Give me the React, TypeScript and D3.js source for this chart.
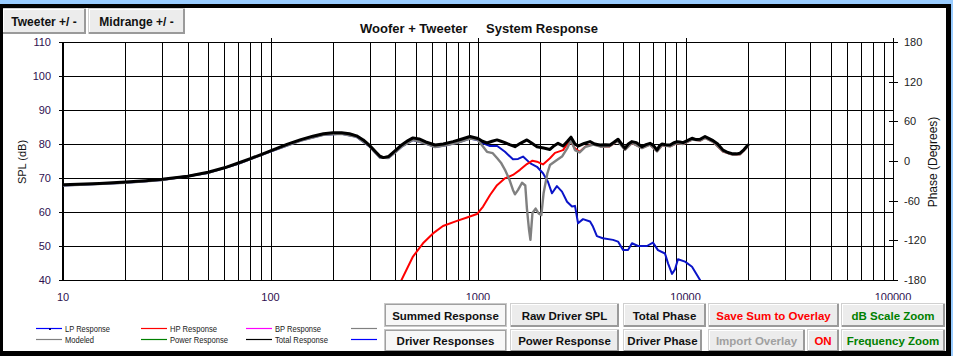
import React from "react";
import * as d3 from "d3";

const W = 953;
const H = 356;

const dbTicks = [40, 50, 60, 70, 80, 90, 100, 110];
const phaseTicks = [-180, -120, -60, 0, 60, 120, 180];
const freqLabels = [10, 100, 1000, 10000, 100000];

// Total Response (black)
const totalFreq = [10, 15, 20, 25, 30, 40, 50, 60, 70, 80, 90, 100, 120, 140, 160, 180, 200, 220, 240, 260, 280, 300, 320, 337, 350, 370, 398, 430, 460, 486, 520, 560, 621, 680, 758, 830, 915, 1000, 1050, 1105, 1170, 1235, 1290, 1349, 1420, 1507, 1600, 1721, 1820, 1924, 2070, 2222, 2330, 2430, 2570, 2700, 2807, 2934, 3035, 3250, 3467, 3650, 3873, 4100, 4327, 4520, 4730, 4920, 5106, 5300, 5521, 5800, 6170, 6450, 6745, 7000, 7290, 7500, 7708, 8050, 8420, 8750, 9102, 9400, 9729, 10200, 10750, 11250, 11750, 12420, 13000, 13580, 14300, 15170, 16000, 16950, 17600, 18320, 19100, 20000];
const totalDb = [68.0, 68.4, 68.8, 69.2, 69.6, 70.5, 71.7, 73.0, 74.4, 75.7, 76.9, 78.0, 79.9, 81.3, 82.3, 83.0, 83.3, 83.3, 83.0, 82.4, 81.2, 79.6, 77.8, 76.4, 76.0, 76.3, 78.0, 79.8, 81.0, 81.8, 81.5, 80.6, 79.7, 80.0, 80.7, 81.4, 82.2, 81.6, 80.8, 80.3, 80.8, 81.2, 80.8, 80.4, 79.8, 79.2, 80.2, 81.2, 80.2, 79.2, 78.8, 78.4, 79.5, 80.2, 79.4, 80.8, 82.0, 80.0, 79.4, 80.2, 80.7, 80.0, 79.7, 79.8, 79.7, 80.5, 81.4, 80.0, 78.7, 80.0, 80.7, 80.4, 79.2, 79.8, 80.2, 79.6, 78.2, 79.5, 80.0, 79.8, 79.7, 80.3, 80.7, 80.6, 80.4, 81.0, 81.7, 81.3, 81.4, 82.2, 81.6, 81.0, 80.0, 78.2, 77.5, 77.1, 77.1, 77.3, 78.3, 79.7];

// Modeled (gray)
const modeledFreq = [10, 20, 30, 50, 70, 100, 140, 180, 220, 260, 300, 337, 370, 398, 430, 486, 560, 621, 700, 800, 915, 1000, 1050, 1105, 1178, 1238, 1290, 1349, 1420, 1474, 1507, 1560, 1630, 1690, 1721, 1760, 1789, 1830, 1895, 1960, 2020, 2070, 2160, 2222, 2400, 2540, 2690, 2807, 2934, 3090, 3300, 3600, 3900, 4300, 4700, 5106, 5521, 6170, 6745, 7290, 7708, 8420, 9102, 9729, 10750, 11750, 12420, 13580, 15170, 16950, 18320, 20000];
const modeledDb = [67.8, 68.6, 69.4, 71.5, 74.2, 77.8, 81.0, 82.7, 83.0, 82.1, 79.3, 76.0, 75.9, 77.5, 79.3, 81.2, 80.1, 79.1, 79.6, 80.4, 81.6, 81.2, 79.5, 77.7, 77.3, 75.8, 74.5, 72.4, 69.4, 66.5, 65.2, 66.5, 68.6, 67.8, 61.0, 55.0, 51.8, 59.7, 61.0, 59.6, 59.1, 65.5, 71.4, 73.8, 75.3, 76.3, 78.7, 81.2, 78.2, 77.5, 79.2, 79.8, 79.2, 79.3, 80.9, 78.3, 80.3, 78.8, 79.8, 77.8, 79.6, 79.3, 80.3, 80.0, 81.3, 81.0, 81.8, 80.6, 77.8, 76.8, 77.0, 79.4];

// LP Response (blue)
const lpFreq = [10, 20, 30, 50, 70, 100, 140, 180, 220, 260, 300, 337, 370, 398, 430, 486, 560, 621, 700, 800, 915, 989, 1058, 1143, 1238, 1349, 1474, 1560, 1648, 1789, 1924, 2057, 2173, 2273, 2400, 2540, 2686, 2838, 2934, 3035, 3206, 3467, 3581, 3742, 4000, 4475, 4730, 5000, 5284, 5521, 5905, 6521, 6970, 7367, 7964, 8238, 8610, 8895, 9200, 9950, 10750, 11750];
const lpDb = [67.8, 68.6, 69.4, 71.5, 74.2, 77.8, 81.0, 82.7, 83.0, 82.1, 79.3, 76.0, 75.9, 77.5, 79.3, 81.2, 80.1, 79.1, 79.6, 80.4, 81.6, 81.2, 80.2, 79.4, 79.4, 77.7, 75.5, 75.6, 76.3, 74.3, 73.3, 71.4, 68.9, 65.5, 67.6, 66.0, 63.0, 61.6, 61.8, 56.7, 57.9, 57.2, 55.7, 52.9, 52.3, 51.8, 51.3, 48.8, 48.8, 50.8, 50.0, 50.0, 51.0, 48.8, 47.8, 44.9, 41.8, 43.1, 46.1, 45.4, 43.9, 40.0];

// HP Response (red)
const hpFreq = [420, 486, 543, 607, 678, 792, 885, 989, 1058, 1143, 1235, 1349, 1474, 1593, 1721, 1830, 1924, 2057, 2222, 2350, 2570, 2776, 2934, 3090, 3300, 3600, 3900, 4300, 4730, 5106, 5521, 6170, 6745, 7290, 7708, 8420, 9102, 9729, 10750, 11750, 12420, 13580, 15170, 16950, 18320, 20000];
const hpDb = [39.0, 46.9, 50.8, 53.7, 55.9, 57.4, 58.4, 59.4, 61.6, 65.0, 67.9, 69.9, 70.9, 72.4, 74.1, 75.1, 74.8, 74.0, 75.8, 77.4, 78.2, 81.2, 78.7, 77.7, 79.3, 79.9, 79.3, 79.3, 81.0, 78.4, 80.3, 78.9, 79.8, 77.9, 79.6, 79.3, 80.3, 80.0, 81.3, 81.0, 81.8, 80.6, 77.8, 76.8, 77.0, 79.4];

const legendRow1 = [
  { label: "LP Response", color: "#0000ff", w: 45, marker: true },
  { label: "HP Response", color: "#ff0000", w: 47 },
  { label: "BP Response", color: "#ff00ff", w: 46 },
  { label: "", color: "#808080", w: 0 },
];
const legendRow2 = [
  { label: "Modeled", color: "#808080", w: 29 },
  { label: "Power Response", color: "#008000", w: 58 },
  { label: "Total Response", color: "#000000", w: 53 },
  { label: "", color: "#0000ff", w: 0 },
];

const FONT = "Arial, 'Liberation Sans', sans-serif";

type BtnProps = {
  x: number; y: number; w: number; h: number; label: string;
  color?: string; pressed?: boolean; size?: number; weight?: string;
};

function Btn({ x, y, w, h, label, color = "#111", pressed = false, size = 11.5, weight = "bold" }: BtnProps) {
  return (
    <g>
      <rect x={x} y={y} width={w} height={h} fill={pressed ? "#f7f7f7" : "#ececec"} />
      {pressed ? (
        <g>
          <rect x={x + 1} y={y + 1} width={w - 2} height={h - 2} fill="none" stroke="#a0a0a0" strokeWidth={2} />
          <rect x={x + 0.5} y={y + 0.5} width={w - 1} height={h - 1} fill="none" stroke="#c8c8c8" strokeWidth={1} />
        </g>
      ) : (
        <g>
          <rect x={x + 0.5} y={y + 0.5} width={w - 1} height={h - 1} fill="none" stroke="#d0d0d0" strokeWidth={1} />
          <line x1={x + 1} y1={y + h - 1} x2={x + w - 1} y2={y + h - 1} stroke="#9a9a9a" strokeWidth={2} />
          <line x1={x + w - 1} y1={y + 1} x2={x + w - 1} y2={y + h} stroke="#9a9a9a" strokeWidth={2} />
          <line x1={x + 1} y1={y + 1.5} x2={x + w - 2} y2={y + 1.5} stroke="#ffffff" strokeWidth={1} />
          <line x1={x + 1.5} y1={y + 1} x2={x + 1.5} y2={y + h - 2} stroke="#ffffff" strokeWidth={1} />
        </g>
      )}
      <text x={x + w / 2} y={y + h / 2 + 4.5} textAnchor="middle" fontFamily={FONT}
        fontSize={size} fontWeight={weight} fill={color}>{label}</text>
    </g>
  );
}

export default function App() {
  const x = d3.scaleLog().domain([10, 100000]).range([63, 893]);
  const y = d3.scaleLinear().domain([40, 110]).range([280, 42]);
  const yp = d3.scaleLinear().domain([-180, 180]).range([280, 42]);

  const line = (fr: number[], db: number[]) =>
    d3.line<number>().x((_, i) => x(fr[i])).y((d) => y(d))(db) || "";

  const gridFreqs: number[] = [];
  [10, 100, 1000, 10000].forEach((d) => {
    for (let k = 1; k <= 9; k++) gridFreqs.push(k * d);
  });
  gridFreqs.push(100000);

  const px = (v: number) => Math.round(v) + 0.5;

  return (
    <svg width={W} height={H} style={{ position: "absolute", left: 0, top: 0, background: "#fff" }}>
      <defs>
        <clipPath id="plotClip">
          <rect x={63} y={42} width={830} height={238} />
        </clipPath>
      </defs>
      <rect x={0} y={0} width={W} height={H} fill="#ffffff" />

      {/* grid */}
      <g stroke="#000" strokeWidth={1}>
        {gridFreqs.map((f) => (
          <line key={"v" + f} x1={px(x(f))} x2={px(x(f))} y1={42} y2={280} />
        ))}
        {[100, 1000, 10000].map((f) => (
          <line key={"mt" + f} x1={px(x(f))} x2={px(x(f))} y1={38} y2={42} />
        ))}
        {dbTicks.map((v) => (
          <line key={"h" + v} x1={59} x2={893} y1={px(y(v))} y2={px(y(v))} />
        ))}
        {phaseTicks.map((v) => (
          <line key={"p" + v} x1={889} x2={898} y1={px(yp(v))} y2={px(yp(v))} />
        ))}
        <line x1={px(x(100000))} x2={px(x(100000))} y1={38} y2={280} />
      </g>
      <line x1={63} x2={63} y1={42} y2={281} stroke="#000" strokeWidth={2} />

      {/* curves */}
      <g clipPath="url(#plotClip)" fill="none" strokeLinejoin="round" strokeLinecap="round">
        <path d={line(lpFreq, lpDb)} stroke="#0a14c8" strokeWidth={2} />
        <path d={line(hpFreq, hpDb)} stroke="#ff0000" strokeWidth={2} />
        <path d={line(modeledFreq, modeledDb)} stroke="#808080" strokeWidth={2.4} />
        <path d={line(totalFreq, totalDb)} stroke="#000000" strokeWidth={3} />
      </g>

      {/* axis labels */}
      {dbTicks.map((v) => (
        <text key={"dl" + v} x={51} y={y(v) + 4} textAnchor="end" fontFamily={FONT} fontSize={11} fill="#2e1050">{v}</text>
      ))}
      {phaseTicks.map((v) => (
        <text key={"pl" + v} x={904} y={yp(v) + 4} textAnchor="start" fontFamily={FONT} fontSize={11} fill="#222">{v}</text>
      ))}
      {freqLabels.map((f) => (
        <text key={"fl" + f} x={x(f)} y={301} textAnchor="middle" fontFamily={FONT} fontSize={11} fill="#2e1050">{f}</text>
      ))}

      <text transform="translate(26,162) rotate(-90)" textAnchor="middle" fontFamily={FONT} fontSize={11} fill="#111">SPL (dB)</text>
      <text transform="translate(937,162) rotate(-90)" textAnchor="middle" fontFamily={FONT} fontSize={12} fill="#111">Phase (Degrees)</text>

      {/* title */}
      <text x={360} y={33} fontFamily={FONT} fontSize={13} fontWeight="bold" fill="#111">Woofer + Tweeter</text>
      <text x={486} y={33} fontFamily={FONT} fontSize={13} fontWeight="bold" fill="#111">System Response</text>

      {/* legend */}
      {[legendRow1, legendRow2].map((row, r) =>
        row.map((it, c) => {
          const lx = 36 + c * 105;
          const ly = r === 0 ? 328.5 : 339.5;
          return (
            <g key={"lg" + r + c}>
              <line x1={lx} x2={lx + 26} y1={ly} y2={ly} stroke={it.color} strokeWidth={1.2} />
              {it.marker ? <rect x={lx + 13} y={ly - 0.5} width={2} height={2} fill="#000080" /> : null}
              {it.label ? (
                <text x={lx + 29} y={ly + 3.2} fontFamily={FONT} fontSize={9} fill="#222"
                  textLength={it.w} lengthAdjust="spacingAndGlyphs">{it.label}</text>
              ) : null}
            </g>
          );
        })
      )}

      {/* top buttons */}
      <Btn x={2} y={8} w={84} h={26} label="Tweeter +/ -" size={12} />
      <Btn x={88} y={8} w={97} h={26} label="Midrange   +/ -" size={12} />

      {/* bottom buttons */}
      <rect x={382} y={300} width={564} height={52} fill="#fff" />
      <Btn x={384} y={303} w={123} h={24} label="Summed Response" pressed />
      <Btn x={510} y={303} w={109} h={24} label="Raw Driver SPL" />
      <Btn x={623} y={303} w={83} h={24} label="Total Phase" />
      <Btn x={708} y={303} w={131} h={24} label="Save Sum to Overlay" color="#ff0000" />
      <Btn x={841} y={303} w={104} h={24} label="dB Scale Zoom" color="#008000" />
      <Btn x={384} y={329} w={123} h={23} label="Driver Responses" pressed />
      <Btn x={510} y={329} w={109} h={23} label="Power Response" />
      <Btn x={623} y={329} w={79} h={23} label="Driver Phase" />
      <Btn x={708} y={329} w={97} h={23} label="Import Overlay" color="#a0a0a0" />
      <Btn x={807} y={329} w={32} h={23} label="ON" color="#ff0000" />
      <Btn x={841} y={329} w={104} h={23} label="Frequency Zoom" color="#008000" />

      {/* frame */}
      <rect x={0} y={0} width={W} height={4} fill="#99ccff" />
      <rect x={0} y={4} width={W} height={4} fill="#000" />
      <rect x={0} y={4} width={3} height={H} fill="#000" />
      <rect x={946} y={4} width={5} height={H} fill="#000" />
      <rect x={951} y={0} width={2} height={H} fill="#99ccff" />
      <rect x={0} y={351} width={951} height={5} fill="#000" />
    </svg>
  );
}
